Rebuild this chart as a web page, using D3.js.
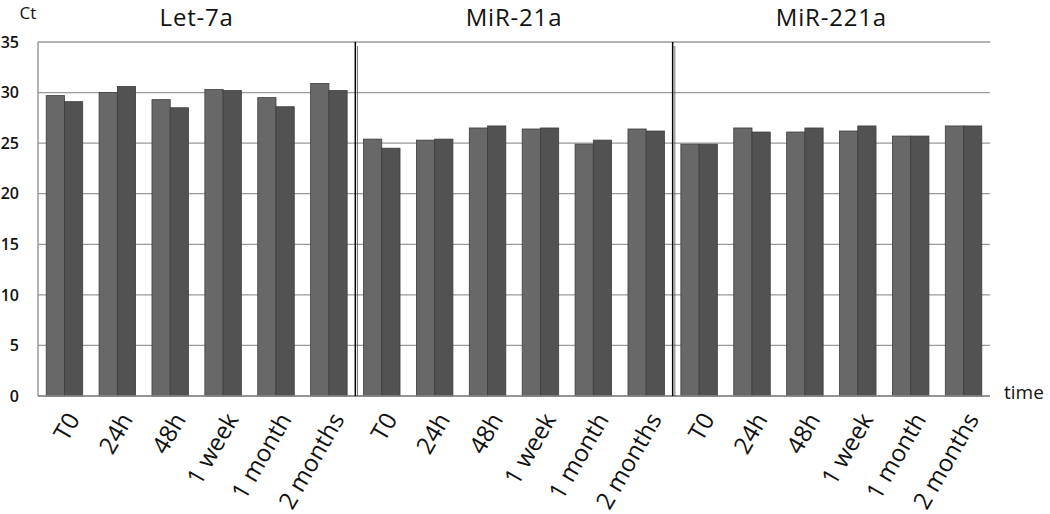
<!DOCTYPE html>
<html lang="en">
<head>
<meta charset="UTF-8">
<title>Ct over time</title>
<script src="https://cdnjs.cloudflare.com/ajax/libs/d3/7.8.5/d3.min.js"></script>
<style>
    body { margin: 0; background: #fff; }
    svg text { font-family: "Open Sans", sans-serif; fill: #111; }
</style>
</head>
<body>
<svg width="1050" height="514"></svg>
<script>
    // groups and time points
    const genes = ["Let-7a", "MiR-21a", "MiR-221a"];
    const times = ["T0", "24h", "48h", "1 week", "1 month", "2 months"];

    // Ct values (two bars per time point)
    const let7aFirst = [29.7, 30.0, 29.3, 30.3, 29.5, 30.9];
    const let7aSecond = [29.1, 30.6, 28.5, 30.2, 28.6, 30.2];
    const mir21aFirst = [25.4, 25.3, 26.5, 26.4, 24.9, 26.4];
    const mir21aSecond = [24.5, 25.4, 26.7, 26.5, 25.3, 26.2];
    const mir221aFirst = [24.9, 26.5, 26.1, 26.2, 25.7, 26.7];
    const mir221aSecond = [24.9, 26.1, 26.5, 26.7, 25.7, 26.7];

    const yTicks = [0, 5, 10, 15, 20, 25, 30, 35];

    const seriesByGene = {
        "Let-7a": [let7aFirst, let7aSecond],
        "MiR-21a": [mir21aFirst, mir21aSecond],
        "MiR-221a": [mir221aFirst, mir221aSecond]
    };

    const rows = genes.flatMap(g => times.map((t, i) => ({
        key: g + "|" + t, gene: g, time: t,
        values: seriesByGene[g].map(s => s[i])
    })));

    const svg = d3.select("svg");
    const plotLeft = 38, plotRight = 990, plotTop = 42, plotBottom = 396;

    const x = d3.scaleBand()
        .domain(rows.map(d => d.key))
        .range([plotLeft, plotRight])
        .paddingInner(0.31)
        .paddingOuter(0.155);

    const xSub = d3.scaleBand()
        .domain([0, 1])
        .range([0, x.bandwidth()]);

    const y = d3.scaleLinear().domain([0, 35]).range([plotBottom, plotTop]);

    const colors = ["#686868", "#525252"];

    // gridlines
    svg.append("g")
        .selectAll("line")
        .data(yTicks)
        .enter()
        .append("line")
        .attr("x1", plotLeft).attr("x2", plotRight)
        .attr("y1", d => y(d)).attr("y2", d => y(d))
        .attr("stroke", "#9a9a9a")
        .attr("stroke-width", 1.3);

    // y axis line
    svg.append("line")
        .attr("x1", plotLeft).attr("x2", plotLeft)
        .attr("y1", plotTop).attr("y2", plotBottom)
        .attr("stroke", "#8a8a8a").attr("stroke-width", 1.3);

    // y tick labels
    svg.append("g")
        .selectAll("text")
        .data(yTicks)
        .enter()
        .append("text")
        .attr("x", 19)
        .attr("y", d => y(d))
        .attr("dy", "0.36em")
        .attr("text-anchor", "end")
        .attr("font-size", 16)
        .attr("font-weight", 600)
        .text(d => d);

    // bars
    const groups = svg.append("g")
        .selectAll("g")
        .data(rows)
        .enter()
        .append("g")
        .attr("transform", d => `translate(${x(d.key)},0)`);

    groups.selectAll("rect")
        .data(d => d.values.map((v, i) => ({ v, i })))
        .enter()
        .append("rect")
        .attr("x", d => xSub(d.i))
        .attr("width", xSub.bandwidth())
        .attr("y", d => y(d.v))
        .attr("height", d => y(0) - y(d.v))
        .attr("fill", d => colors[d.i])
        .attr("stroke", "#3d3d3d")
        .attr("stroke-width", 0.8);

    // bottom axis line
    svg.append("line")
        .attr("x1", plotLeft).attr("x2", plotRight)
        .attr("y1", plotBottom).attr("y2", plotBottom)
        .attr("stroke", "#8a8a8a").attr("stroke-width", 1.5);

    // group dividers
    const step = x.step();
    [1, 2].forEach(k => {
        const xb = plotLeft + step * times.length * k;
        svg.append("line")
            .attr("x1", xb).attr("x2", xb)
            .attr("y1", plotTop).attr("y2", plotBottom)
            .attr("stroke", "#000").attr("stroke-width", 1.5);
        svg.append("line")
            .attr("x1", xb + 2.2).attr("x2", xb + 2.2)
            .attr("y1", plotTop + 4).attr("y2", plotBottom)
            .attr("stroke", "#555").attr("stroke-width", 0.8);
    });

    // group titles
    svg.append("g")
        .selectAll("text")
        .data(genes)
        .enter()
        .append("text")
        .attr("x", (d, k) => plotLeft + step * times.length * (k + 0.5))
        .attr("y", 26)
        .attr("text-anchor", "middle")
        .attr("font-size", 24)
        .attr("letter-spacing", 0.8)
        .text(d => d);

    // rotated time labels
    svg.append("g")
        .selectAll("text")
        .data(rows)
        .enter()
        .append("text")
        .attr("transform", d => `translate(${x(d.key) + x.bandwidth() / 2 + 9},${plotBottom + 19}) rotate(-60)`)
        .attr("text-anchor", "end")
        .attr("dy", "0.35em")
        .attr("font-size", 24)
        .text(d => d.time);

    svg.append("text")
        .attr("x", 28).attr("y", 19)
        .attr("text-anchor", "middle")
        .attr("font-size", 17)
        .text("Ct");

    svg.append("text")
        .attr("x", 1004).attr("y", 399)
        .attr("font-size", 19)
        .text("time");
</script>
</body>
</html>
